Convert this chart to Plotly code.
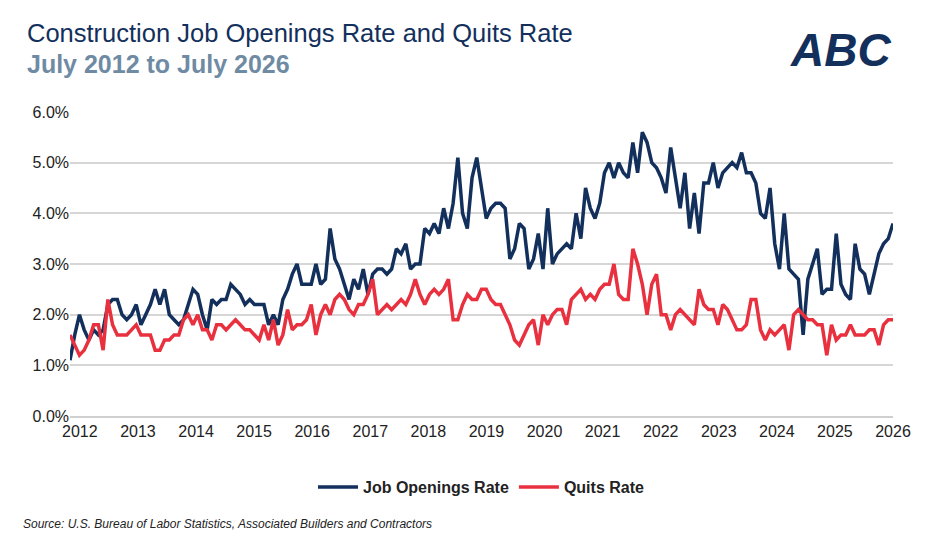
import plotly.graph_objects as go

job_openings = [1.1,1.6,2.0,1.7,1.5,
 1.7,1.6,1.7,2.2,2.3,2.3,2.0,1.9,2.0,2.2,1.8,2.0,
 2.2,2.5,2.2,2.5,2.0,1.9,1.8,1.9,2.2,2.5,2.4,2.0,
 1.7,2.3,2.2,2.3,2.3,2.6,2.5,2.4,2.2,2.3,2.2,2.2,
 2.2,1.8,2.0,1.8,2.3,2.5,2.8,3.0,2.6,2.6,2.6,3.0,
 2.6,2.7,3.7,3.1,2.9,2.6,2.3,2.7,2.5,2.9,2.4,2.8,
 2.9,2.9,2.8,2.9,3.3,3.2,3.4,2.9,3.0,3.0,3.7,3.6,
 3.8,3.6,4.1,3.7,4.2,5.1,4.0,3.7,4.7,5.1,4.5,3.9,
 4.1,4.2,4.2,4.1,3.1,3.3,3.8,3.7,2.9,3.1,3.6,2.9,
 4.1,3.0,3.2,3.3,3.4,3.3,4.0,3.5,4.5,4.1,3.9,4.2,
 4.8,5.0,4.7,5.0,4.8,4.7,5.4,4.8,5.6,5.4,5.0,4.9,
 4.7,4.4,5.3,4.7,4.1,4.8,3.7,4.4,3.6,4.6,4.6,5.0,
 4.5,4.8,4.9,5.0,4.9,5.2,4.8,4.8,4.6,4.0,3.9,4.5,
 3.4,2.9,4.0,2.9,2.8,2.7,1.6,2.7,3.0,3.3,2.4,2.5,
 2.5,3.6,2.6,2.4,2.3,3.4,2.9,2.8,2.4,2.8,3.2,3.4,
 3.5,3.8]
quits = [1.6,1.4,1.2,1.3,1.5,
 1.8,1.8,1.3,2.3,1.8,1.6,1.6,1.6,1.7,1.8,1.6,1.6,
 1.6,1.3,1.3,1.5,1.5,1.6,1.6,1.9,2.0,1.8,2.0,1.7,
 1.7,1.5,1.8,1.8,1.7,1.8,1.9,1.8,1.7,1.7,1.6,1.5,
 1.8,1.5,1.9,1.4,1.6,2.1,1.7,1.8,1.8,1.9,2.2,1.6,
 2.0,2.2,2.0,2.3,2.4,2.3,2.1,2.0,2.2,2.2,2.4,2.7,
 2.0,2.1,2.2,2.1,2.2,2.3,2.2,2.4,2.7,2.4,2.2,2.4,
 2.5,2.4,2.5,2.7,1.9,1.9,2.2,2.4,2.3,2.3,2.5,2.5,
 2.3,2.2,2.2,2.0,1.8,1.5,1.4,1.6,1.8,1.9,1.4,2.0,
 1.8,2.0,2.1,2.1,1.8,2.3,2.4,2.5,2.3,2.4,2.3,2.5,
 2.6,2.6,3.0,2.4,2.3,2.3,3.3,3.0,2.6,2.0,2.6,2.8,
 2.0,2.0,1.7,2.0,2.1,2.0,1.9,1.8,2.5,2.2,2.1,2.1,
 1.8,2.2,2.1,1.9,1.7,1.7,1.8,2.3,2.3,1.7,1.5,1.7,
 1.6,1.7,1.8,1.3,2.0,2.1,2.0,1.9,1.9,1.8,1.8,1.2,
 1.8,1.5,1.6,1.6,1.8,1.6,1.6,1.6,1.7,1.7,1.4,1.8,
 1.9,1.9]
year_ticks = list(range(2012, 2027))

start, end = 2011.83, 2026.0
n = len(job_openings)
x = [start + i*(end-start)/(n-1) for i in range(n)]

OFF = 8  # page offset
TOP, BOT = 112 - OFF, 416 - OFF
def py(px):
    return (BOT - (px - OFF)) / (BOT - TOP)

fig = go.Figure()
fig.add_trace(go.Scatter(x=x, y=job_openings, mode="lines", name="<b>Job Openings Rate</b>",
                         line=dict(color="#13305C", width=3.5)))
fig.add_trace(go.Scatter(x=x, y=quits, mode="lines", name="<b>Quits Rate</b>",
                         line=dict(color="#E8303F", width=3.5)))
fig.update_layout(
    width=936, height=552, plot_bgcolor="white", paper_bgcolor="white",
    margin=dict(l=70 - OFF, r=43 + OFF, t=TOP, b=552 - BOT, autoexpand=False),
    font=dict(family="Liberation Sans, Arial", color="#222", size=15),
    xaxis=dict(range=[start, end], tickvals=year_ticks, ticktext=[str(v) for v in year_ticks],
               showgrid=False, showline=True, linecolor="#d0d0d0", linewidth=1.5,
               ticks="", tickfont=dict(size=16), automargin=False),
    yaxis=dict(range=[0, 6], dtick=1, tickformat=".1f", ticksuffix="%",
               showgrid=True, gridcolor="#d6d6d6", gridwidth=1.5, zeroline=False,
               tickfont=dict(size=16), automargin=False),
    legend=dict(orientation="h", x=0.5, xanchor="center", y=py(487), yanchor="middle",
                font=dict(size=16, color="#222"), itemwidth=40),
    showlegend=True,
)
fig.add_annotation(xref="paper", yref="paper", x=-0.055, y=py(33), xanchor="left", yanchor="middle",
                   text="Construction Job Openings Rate and Quits Rate", showarrow=False,
                   font=dict(size=25.5, color="#13305C"))
fig.add_annotation(xref="paper", yref="paper", x=-0.055, y=py(64), xanchor="left", yanchor="middle",
                   text="<b>July 2012 to July 2026</b>", showarrow=False,
                   font=dict(size=25, color="#6F8BA4"))
fig.add_annotation(xref="paper", yref="paper", x=1.0, y=py(50), xanchor="right", yanchor="middle",
                   text="<b><i>ABC</i></b>", showarrow=False,
                   font=dict(size=46, color="#13305C", family="Liberation Sans"))
fig.add_annotation(xref="paper", yref="paper", x=-0.06, y=py(524), xanchor="left", yanchor="middle",
                   text="<i>Source: U.S. Bureau of Labor Statistics, Associated Builders and Contractors</i>",
                   showarrow=False, font=dict(size=12, color="#222"))
fig.write_html("out.html")
